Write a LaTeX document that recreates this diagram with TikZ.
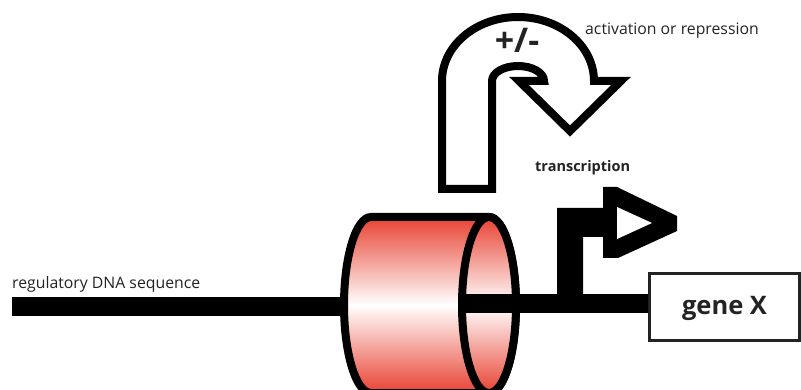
\documentclass[tikz,border=0pt]{standalone}
\usepackage{fontspec}
\setmainfont{Open Sans}
\definecolor{cylred}{RGB}{232,66,50}
\definecolor{txt}{RGB}{35,35,35}
\begin{document}
\begin{tikzpicture}[x=1pt,y=-1pt,
  lbl/.style={inner sep=0pt,text=txt,font=\fontsize{15.8}{18}\selectfont},
  blbl/.style={inner sep=0pt,text=txt,font=\bfseries\fontsize{14.5}{17}\selectfont},
  outl/.style={draw=black,line width=8pt},
  cylshade/.style={top color=cylred,bottom color=cylred,middle color=white},
  dna/.style={fill=black}]
\useasboundingbox (0,0) rectangle (801,390);
\clip (0,0) rectangle (801,390);
% left DNA strand
\fill[dna] (12,297) rectangle (346,316);
% cylinder body
\path[cylshade,outl] (489,217) -- (371,217)
  arc[start angle=270,end angle=90,x radius=27,y radius=88] -- (489,393)
  arc[start angle=90,end angle=-90,x radius=27,y radius=88] -- cycle;
% cylinder front face
\path[cylshade,outl] (489,305) ellipse[x radius=27,y radius=88];
% gene box
\node[draw=txt,line width=3pt,fill=white,minimum width=150pt,minimum height=67pt,inner sep=0pt] (gene) at (724,307) {};
\node[blbl,font=\bfseries\fontsize{25.5}{28}\selectfont,anchor=base] (genetxt) at (724.5,315) {gene X};
% right DNA strand
\coordinate (dnastart) at (458,303.5);
\draw[line width=19pt] (dnastart) -- (dnastart -| gene.west);
% promoter bent arrow
\fill (557,300) -- (557,208) -- (604,208) -- (604,237) -- (583,237) -- (583,300) -- cycle;
\fill (603,187) -- (617,187) -- (677,216) -- (677,231) -- (618,258) -- (603,258) -- cycle;
\fill[white] (617,207) -- (652,223) -- (617,239) -- cycle;
% U-turn arrow
\path[draw=black,fill=white,line width=8pt,line join=miter]
  (442,189) -- (442,81) arc[start angle=180,end angle=360,x radius=76,y radius=64]
  -- (621,81) -- (570,131) -- (519,81) -- (544,81)
  arc[start angle=360,end angle=180,x radius=26,y radius=15]
  -- (492,189) -- cycle;
% labels
\node[blbl,font=\bfseries\fontsize{34}{36}\selectfont] (pm) at (517,40) {+/-};
\node[lbl,anchor=base west] (act) at (585,35) {activation or repression};
\node[blbl,anchor=base west] (trans) at (535,172) {transcription};
\node[lbl,anchor=base west] (reg) at (12,289) {regulatory DNA sequence};
\end{tikzpicture}
\end{document}
